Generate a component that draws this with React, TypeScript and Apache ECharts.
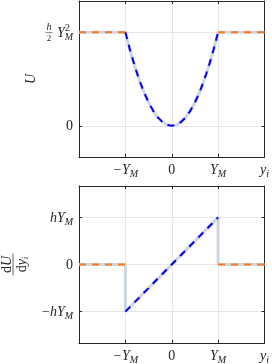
import React, { useEffect, useRef } from 'react';
import * as echarts from 'echarts';

// ---- tick values & labels ----
const xTickValues = [-1, 0, 1, 2];
const xTickLabels = ['{i|−Y}{s|M}', '{r|0}', '{i|Y}{s|M}', '{i|y}{s|i}'];
const uTickValues = [0, 1];
const uTickLabels = ['{r|0}', '{i|Y}{s|M}'];
const uTopFraction = ['h', '2'];
const uTopSup = '2';
const duTickValues = [-1, 0, 1];
const duTickLabels = ['{r|−}{i|hY}{s|M}', '{r|0}', '{i|hY}{s|M}'];

// ---- top panel: U(y_i) ----
const yWell = [-1, -0.9, -0.8, -0.7, -0.6, -0.5, -0.4, -0.3, -0.2, -0.1, 0, 0.1, 0.2, 0.3, 0.4, 0.5, 0.6, 0.7, 0.8, 0.9, 1];
const uWell = [1, 0.81, 0.64, 0.49, 0.36, 0.25, 0.16, 0.09, 0.04, 0.01, 0, 0.01, 0.04, 0.09, 0.16, 0.25, 0.36, 0.49, 0.64, 0.81, 1];
const yOutLeft = [-2, -1];
const uOutLeft = [1, 1];
const yOutRight = [1, 2];
const uOutRight = [1, 1];

// ---- bottom panel: dU/dy_i ----
const yForce = [-2, -1, -1, 1, 1, 2];
const dForce = [0, 0, -1, 1, 0, 0];
const yLin = [-1, 1];
const dLin = [-1, 1];
const dOutLeft = [0, 0];
const dOutRight = [0, 0];

const FONT = "'Liberation Serif', 'DejaVu Serif', serif";
const C = '#262626';
const GRAY = '#cdd6e2';
const BLUE = '#0000ff';
const ORANGE = '#f47a1f';

const zip = (a: number[], b: number[]) => a.map((v, i) => [v, b[i]]);

const rich: any = {
  r: { fontFamily: FONT, fontSize: 14, color: C, lineHeight: 14, verticalAlign: 'middle' },
  i: { fontFamily: FONT, fontStyle: 'italic', fontSize: 14, color: C, lineHeight: 14, verticalAlign: 'middle' },
  s: { fontFamily: FONT, fontStyle: 'italic', fontSize: 10, color: C, lineHeight: 10, padding: [8, 0, 0, 0], verticalAlign: 'middle' },
};

const fmt = (vals: number[], labs: string[]) => (v: number) => {
  const i = vals.findIndex((t) => Math.abs(t - v) < 1e-9);
  return i >= 0 ? labs[i] : '';
};

export default function App() {
  const ref = useRef<HTMLDivElement>(null);
  useEffect(() => {
    if (!ref.current) return;
    const chart = echarts.init(ref.current, undefined, { renderer: 'svg' });
    const grids = [
      { left: 79, top: 1, width: 188, height: 156 },
      { left: 79, top: 186, width: 188, height: 157 },
    ];
    const xAx = (gi: number, pos: 'bottom' | 'top') => ({
      type: 'value',
      gridIndex: gi,
      position: pos,
      min: -2,
      max: 2,
      axisLine: { show: true, onZero: false, lineStyle: { color: C, width: 1 } },
      axisTick: { show: true, inside: true, length: 3, customValues: xTickValues.slice(0, 3), lineStyle: { color: C } },
      axisLabel: {
        show: pos === 'bottom',
        customValues: xTickValues,
        margin: 5,
        showMinLabel: true,
        showMaxLabel: true,
        formatter: fmt(xTickValues, xTickLabels),
        rich,
      },
      splitLine: { show: pos === 'bottom', lineStyle: { color: '#e6e6e6', width: 1 } },
    });
    const yAx = (gi: number, pos: 'left' | 'right', vals: number[], labs: string[], min: number, max: number, name: string) => ({
      type: 'value',
      gridIndex: gi,
      position: pos,
      min,
      max,
      name,
      nameLocation: 'middle',
      nameRotate: 90,
      nameGap: 42,
      nameTextStyle: { fontFamily: FONT, fontStyle: 'italic', fontSize: 14, color: C },
      axisLine: { show: true, onZero: false, lineStyle: { color: C, width: 1 } },
      axisTick: { show: true, inside: true, length: 3, customValues: vals, lineStyle: { color: C } },
      axisLabel: {
        show: pos === 'left',
        customValues: vals,
        margin: 6,
        formatter: fmt(vals, labs),
        rich,
      },
      splitLine: { show: pos === 'left', lineStyle: { color: '#e6e6e6', width: 1 } },
    });
    const line = (xi: number, data: number[][], color: string, width: number, dashed: boolean, z: number) => ({
      type: 'line',
      xAxisIndex: xi,
      yAxisIndex: xi,
      data,
      showSymbol: false,
      symbol: 'none',
      z,
      lineStyle: { color, width, type: dashed ? [7, 6] : 'solid', cap: 'butt' },
    });
    const uAll = zip([...yOutLeft, ...yWell.slice(1, -1), ...yOutRight], [...uOutLeft, ...uWell.slice(1, -1), ...uOutRight]);
    chart.setOption({
      animation: false,
      grid: grids,
      xAxis: [xAx(0, 'bottom'), xAx(1, 'bottom'), xAx(0, 'top'), xAx(1, 'top')],
      yAxis: [
        yAx(0, 'left', uTickValues, uTickLabels, -1 / 3, 4 / 3, 'U'),
        yAx(1, 'left', duTickValues, duTickLabels, -5 / 3, 5 / 3, ''),
        yAx(0, 'right', uTickValues, uTickLabels, -1 / 3, 4 / 3, ''),
        yAx(1, 'right', duTickValues, duTickLabels, -5 / 3, 5 / 3, ''),
      ],
      series: [
        line(0, uAll, GRAY, 3, false, 2),
        line(0, zip(yWell, uWell), BLUE, 2, true, 3),
        line(0, zip(yOutLeft, uOutLeft), ORANGE, 2, true, 3),
        line(0, zip(yOutRight, uOutRight), ORANGE, 2, true, 3),
        line(1, zip(yForce, dForce), GRAY, 3, false, 2),
        line(1, zip(yLin, dLin), BLUE, 2, true, 3),
        line(1, zip(yOutLeft, dOutLeft), ORANGE, 2, true, 3),
        line(1, zip(yOutRight, dOutRight), ORANGE, 2, true, 3),
      ],
    });
    const fy = chart.convertToPixel({ yAxisIndex: 0 }, uTickValues[1]) as number;
    const dy = chart.convertToPixel({ yAxisIndex: 1 }, 0) as number;
    const ctr = { align: 'center', verticalAlign: 'middle', textAlign: 'center', textVerticalAlign: 'middle' };
    chart.setOption({
      graphic: [
        {
          type: 'text',
          x: 49,
          y: fy - 6,
          style: { text: uTopFraction[0], fontFamily: FONT, fontStyle: 'italic', fontSize: 10, fill: C, ...ctr },
        },
        {
          type: 'line',
          shape: { x1: 45.5, y1: fy + 0.5, x2: 52.5, y2: fy + 0.5 },
          style: { stroke: C, lineWidth: 0.6 },
        },
        {
          type: 'text',
          x: 49,
          y: fy + 6,
          style: { text: uTopFraction[1], fontFamily: FONT, fontSize: 9, fill: C, ...ctr },
        },
        {
          type: 'text',
          x: 65,
          y: fy - 5,
          style: { text: uTopSup, fontFamily: FONT, fontSize: 10, fill: C, align: 'left', verticalAlign: 'middle', textAlign: 'left', textVerticalAlign: 'middle' },
        },
        {
          type: 'group',
          x: 13,
          y: dy,
          rotation: Math.PI / 2,
          children: [
            {
              type: 'text',
              x: 0,
              y: -7,
              style: {
                text: '{r|d}{i|U}',
                rich: { r: { fontFamily: FONT, fontSize: 14, fill: C }, i: { fontFamily: FONT, fontStyle: 'italic', fontSize: 14, fill: C } },
                ...ctr,
              },
            },
            { type: 'line', shape: { x1: -11, y1: 0, x2: 11, y2: 0 }, style: { stroke: C, lineWidth: 0.7 } },
            {
              type: 'text',
              x: 0,
              y: 8,
              style: {
                text: '{r|d}{i|y}{s|i}',
                rich: {
                  r: { fontFamily: FONT, fontSize: 14, fill: C, lineHeight: 14, verticalAlign: 'middle' },
                  i: { fontFamily: FONT, fontStyle: 'italic', fontSize: 14, fill: C, lineHeight: 14, verticalAlign: 'middle' },
                  s: { fontFamily: FONT, fontStyle: 'italic', fontSize: 9, fill: C, lineHeight: 9, padding: [7, 0, 0, 0], verticalAlign: 'middle' },
                },
                ...ctr,
              },
            },
          ],
        },
      ],
    });
    return () => chart.dispose();
  }, []);
  return <div ref={ref} style={{ position: 'fixed', left: 0, top: 0, width: 272, height: 364 }} />;
}
